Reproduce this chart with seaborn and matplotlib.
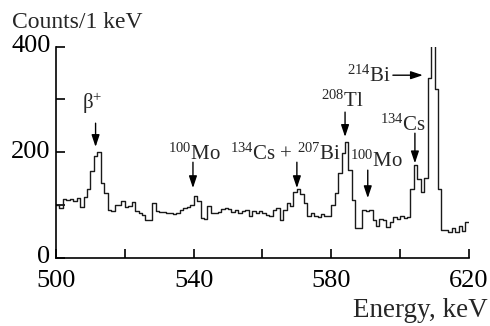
import numpy as np
import pandas as pd
import matplotlib
matplotlib.use("Agg")
import matplotlib.pyplot as plt
import matplotlib.transforms as mtransforms
import seaborn as sns

# Gamma spectrum, counts per 1 keV bin, bins starting at 500 keV
bin_start = list(range(500, 620))
counts = [
    100, 95, 112, 110, 112, 108, 113, 97, 116, 130,      # 500-509
    165, 193, 200, 142, 122, 91, 88, 100, 100, 108,      # 510-519
    97, 98, 105, 88, 84, 81, 71, 71, 103, 89,            # 520-529
    87, 86, 85, 84, 83, 84, 90, 95, 97, 100,             # 530-539
    117, 108, 76, 74, 98, 84, 84, 87, 92, 95,            # 540-549
    92, 86, 90, 84, 88, 90, 80, 88, 84, 88,              # 550-559
    84, 81, 80, 90, 95, 72, 90, 103, 98, 125,            # 560-569
    131, 120, 103, 80, 84, 80, 78, 82, 80, 80,           # 570-579
    100, 122, 160, 198, 220, 166, 110, 56, 57, 90,       # 580-589
    88, 90, 72, 60, 74, 72, 58, 68, 77, 74,              # 590-599
    79, 76, 77, 131, 176, 150, 125, 152, 340, 450,       # 600-609
    320, 130, 52, 52, 48, 56, 48, 61, 51, 68,            # 610-619
]

x_ticks = [500, 520, 540, 560, 580, 600, 620]
x_labels = ["500", "", "540", "", "580", "", "620"]
y_ticks = [0, 100, 200, 300, 400]
y_labels = ["0", "", "200", "", "400"]

sns.set_theme(style="ticks")
plt.rcParams["font.family"] = ["Liberation Serif", "DejaVu Serif"]
plt.rcParams["mathtext.fontset"] = "custom"
plt.rcParams["mathtext.rm"] = "Liberation Serif"
plt.rcParams["mathtext.it"] = "Liberation Serif:italic"
plt.rcParams["mathtext.bf"] = "Liberation Serif:bold"

df = pd.DataFrame({"energy": np.array(bin_start, dtype=float) + 0.5,
                   "counts": np.array(counts, dtype=float)})

fig = plt.figure(figsize=(4.9, 3.26), dpi=100)
ax = fig.add_axes([0.1143, 0.2095, 0.957 - 0.1143, 0.8567 - 0.2095])

sns.histplot(data=df, x="energy", weights="counts", binwidth=1, binrange=(500, 620),
             element="step", fill=False, color="#1a1a1a", linewidth=1.0, ax=ax)

ax.set_xlim(500, 620)
ax.set_ylim(0, 400)
ax.set_xticks(x_ticks)
ax.set_xticklabels(x_labels)
ax.set_yticks(y_ticks)
ax.set_yticklabels(y_labels)
ax.set_xlabel("")
ax.set_ylabel("")
for s in ("top", "right"):
    ax.spines[s].set_visible(False)
for s in ("left", "bottom"):
    ax.spines[s].set_linewidth(1.2)
    ax.spines[s].set_color("black")
ax.tick_params(axis="both", direction="in", length=6.5, width=1.2, colors="black",
               labelsize=19)
ax.tick_params(axis="x", pad=8.5)
ax.tick_params(axis="y", pad=4)

# nudge the count labels up slightly so they sit just above their ticks
lift = mtransforms.ScaledTranslation(0, 3 / 100, fig.dpi_scale_trans)
for lbl in ax.get_yticklabels():
    lbl.set_transform(lbl.get_transform() + lift)

fig.text(12 / 490, 1 - 28 / 326, "Counts/1 keV", fontsize=17, ha="left", va="baseline")
fig.text(488 / 490, 1 - 317 / 326, "Energy, keV", fontsize=19.5, ha="right", va="baseline")

arrow = dict(arrowstyle="-|>,head_length=0.6,head_width=0.2", color="black",
             lw=1.0, shrinkA=0, shrinkB=0)
fs = 15

def label(x, y, s, ha="center"):
    ax.text(x, y, s, fontsize=fs, ha=ha, va="baseline", clip_on=False)

def arr(x0, y0, x1, y1):
    ax.annotate("", xy=(x1, y1), xytext=(x0, y0), arrowprops=arrow, annotation_clip=False)

label(510.5, 282, r"β$\mathregular{^{+}}$")
arr(511.5, 255, 511.5, 210)

label(540.1, 186, r"$\mathregular{^{100}}$Mo")
arr(539.8, 181, 539.8, 132)

label(566.8, 186, r"$\mathregular{^{134}}$Cs + $\mathregular{^{207}}$Bi")
arr(570.0, 181, 570.0, 132)

label(583.1, 287, r"$\mathregular{^{208}}$Tl")
arr(584.0, 276, 584.0, 229)

label(593.0, 173, r"$\mathregular{^{100}}$Mo")
arr(590.6, 166, 590.6, 113)

label(597.4, 334, r"$\mathregular{^{214}}$Bi", ha="right")
arr(597.9, 346, 606.6, 346)

label(600.7, 241, r"$\mathregular{^{134}}$Cs")
arr(604.3, 236, 604.3, 179)

fig.savefig("out.png", dpi=100)
